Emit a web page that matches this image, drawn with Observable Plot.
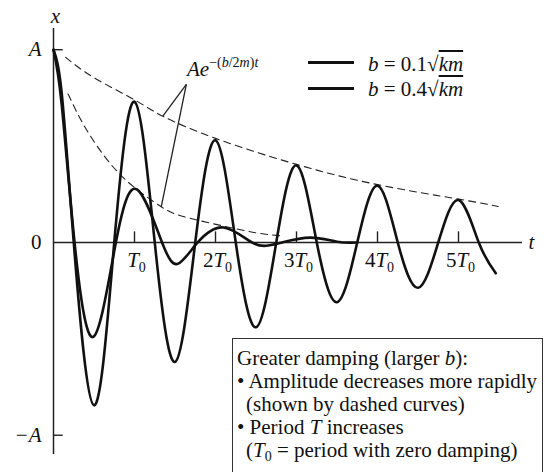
<!DOCTYPE html>
<html><head><meta charset="utf-8">
<script src="https://cdn.jsdelivr.net/npm/d3@7"></script>
<script src="https://cdn.jsdelivr.net/npm/@observablehq/plot@0.6"></script>
<style>
html,body{margin:0;padding:0;background:#fff;}
#wrap{position:relative;width:545px;height:472px;overflow:hidden;font-family:"Liberation Serif","Times New Roman",serif;color:#111;}
#wrap svg{position:absolute;left:0;top:0;}
.abs{position:absolute;white-space:nowrap;font-size:21px;line-height:21px;}
.swatch{position:absolute;height:3px;background:#111;}
.box{position:absolute;left:232px;top:338px;width:311px;height:150px;box-sizing:border-box;border:1px solid #333;padding:8px 0 0 4px;font-size:21px;line-height:23px;white-space:nowrap;background:#fff;}
.ovl{text-decoration:overline;}
.sub{position:relative;top:4px;font-size:14px;}
.sup{position:relative;top:-9px;font-size:14px;}
</style></head><body><div id="wrap"></div>
<script>
// ---- data (t in units of T0, x in units of A) ----
const tickT = [1, 2, 3, 4, 5];
const tickLabels = ["T_0", "2T_0", "3T_0", "4T_0", "5T_0"];
const yTickValues = [1, 0, -1];
const yTickLabels = ["A", "0", "\u2212A"];

// b = 0.1 sqrt(km): light damping
const lightT = [0, 0.1, 0.25, 0.5, 0.75, 1, 1.25, 1.5, 1.75, 2, 2.25, 2.5, 2.75, 3, 3.25, 3.5, 3.75, 4, 4.25, 4.5, 4.75, 5, 5.25, 5.46];
const lightX = [1, 0.78, 0, -0.845, 0, 0.73, 0, -0.62, 0, 0.53, 0, -0.44, 0, 0.40, 0, -0.31, 0, 0.295, 0, -0.235, 0, 0.22, 0, -0.16];

// b = 0.4 sqrt(km): heavy damping
const heavyT = [0, 0.1, 0.26, 0.49, 0.77, 1.03, 1.34, 1.54, 1.78, 2.1, 2.45, 2.65, 2.82, 3.17, 3.5, 3.75];
const heavyX = [1, 0.72, 0, -0.49, 0, 0.275, 0, -0.11, 0, 0.078, 0, -0.016, 0, 0.025, 0.004, 0];

// dashed envelopes A e^{-(b/2m)t}
const lightEnvT = [0.15, 0.5, 1, 1.35, 2, 3, 4, 5, 5.49];
const lightEnvX = [0.96, 0.855, 0.74, 0.655, 0.54, 0.405, 0.30, 0.225, 0.187];
const heavyEnvT = [0.18, 0.4, 0.7, 1.0, 1.33, 1.6, 2.1, 2.5, 2.8];
const heavyEnvX = [0.77, 0.59, 0.41, 0.285, 0.185, 0.135, 0.085, 0.05, 0.035];

// legend and notes
const legendValues = ["0.1", "0.4"];
const boxLines = [
  "Greater damping (larger <i>b</i>):",
  "\u2022 Amplitude decreases more rapidly",
  "(shown by dashed curves)",
  "\u2022 Period <i>T</i> increases",
  "(<i>T</i><span class='sub'>0</span> = period with zero damping)"
];
const boxIndent = [0, 0, 1, 0, 1];

// ---- build ----
const toPts = (T, X) => T.map((t, i) => ({t, v: X[i]}));
const light = toPts(lightT, lightX);
const heavy = toPts(heavyT, heavyX);
const lightEnv = toPts(lightEnvT, lightEnvX);
const heavyEnv = toPts(heavyEnvT, heavyEnvX);
const leaderFrom = {t: 1.64, v: 0.82};
const leaders = [lightEnv[3], heavyEnv[4]].map(p => ({t1: leaderFrom.t, v1: leaderFrom.v, t2: p.t, v2: p.v}));

const FONT = '"Liberation Serif", "Times New Roman", serif';
const ink = "#111";

const chart = Plot.plot({
  width: 545, height: 472,
  marginLeft: 53, marginRight: 23, marginTop: 28, marginBottom: 18,
  x: {domain: [0, 5.79], axis: null},
  y: {domain: [-1.1, 1.11], axis: null},
  style: {fontFamily: FONT, fontSize: "21px", background: "transparent", color: ink},
  marks: [
    Plot.ruleX([0], {stroke: "#222", strokeWidth: 1.5}),
    Plot.ruleY([0], {stroke: "#222", strokeWidth: 1.5}),
    Plot.ruleX(tickT, {x: d => d, y1: 0, y2: 0.055, stroke: "#222", strokeWidth: 1.4}),
    Plot.ruleY([1, -1], {y: d => d, x1: 0, x2: 0.12, stroke: "#222", strokeWidth: 1.4}),
    Plot.line(lightEnv, {x: "t", y: "v", curve: "natural", stroke: "#222", strokeWidth: 1.1, strokeDasharray: "7,5"}),
    Plot.line(heavyEnv, {x: "t", y: "v", curve: "natural", stroke: "#222", strokeWidth: 1.1, strokeDasharray: "7,5"}),
    Plot.link(leaders, {x1: "t1", y1: "v1", x2: "t2", y2: "v2", stroke: "#222", strokeWidth: 1.3}),
    Plot.line(light, {x: "t", y: "v", curve: "natural", stroke: ink, strokeWidth: 2.6}),
    Plot.line(heavy, {x: "t", y: "v", curve: "natural", stroke: ink, strokeWidth: 2.6}),
    Plot.text(tickT, {x: d => d, y: 0, dy: 18, dx: 2, text: (d, i) => tickLabels[i], fontSize: 21, fontFamily: FONT, fill: ink}),
    Plot.text(yTickValues, {filter: (d, i) => yTickLabels[i] !== "0", x: 0, y: d => d, dx: -12, textAnchor: "end", text: (d, i) => yTickLabels[i], fontSize: 21, fontStyle: "italic", fontFamily: FONT, fill: ink}),
    Plot.text(yTickValues, {filter: (d, i) => yTickLabels[i] === "0", x: 0, y: d => d, dx: -12, textAnchor: "end", text: (d, i) => yTickLabels[i], fontSize: 21, fontFamily: FONT, fill: ink}),
    Plot.text(["x"], {x: 0, y: 1.11, dy: -12, dx: 2, text: d => d, fontSize: 21, fontStyle: "italic", fontFamily: FONT, fill: ink}),
    Plot.text(["t"], {x: 5.79, y: 0, dx: 6, textAnchor: "start", text: d => d, fontSize: 21, fontStyle: "italic", fontFamily: FONT, fill: ink})
  ]
});

// subscript tick labels (nT_0)
d3.select(chart).selectAll("text").each(function () {
  const s = this.textContent;
  if (!s.includes("_")) return;
  const [main, sub] = s.split("_");
  const coef = main.slice(0, -1), letter = main.slice(-1);
  const el = d3.select(this);
  el.text(null);
  if (coef) el.append("tspan").text(coef);
  el.append("tspan").attr("font-style", "italic").text(letter);
  el.append("tspan").attr("dy", 5).attr("font-size", 14).text(sub);
});

const wrap = document.getElementById("wrap");
wrap.appendChild(chart);

function addDiv(cls, style, html) {
  const d = document.createElement("div");
  d.className = cls;
  Object.assign(d.style, style);
  if (html != null) d.innerHTML = html;
  wrap.appendChild(d);
  return d;
}

// annotation label for the envelopes
addDiv("abs", {left: "187px", top: "59px"},
  "<i>A</i><i>e</i><span class='sup'>\u2212(<i>b</i>/2<i>m</i>)<i>t</i></span>");

// legend
legendValues.forEach((v, i) => {
  addDiv("swatch", {left: "308px", top: (60.5 + 26 * i) + "px", width: "46px"});
  addDiv("abs", {left: "368px", top: (54 + 25 * i) + "px"},
    "<i>b</i> = " + v + "\u221A<span class='ovl'><i>km</i></span>");
});

// note box
const box = addDiv("box", {});
box.innerHTML = boxLines.map((l, i) =>
  "<div style='padding-left:" + (boxIndent[i] ? 9 : 0) + "px'>" + l + "</div>").join("");
</script></body></html>
